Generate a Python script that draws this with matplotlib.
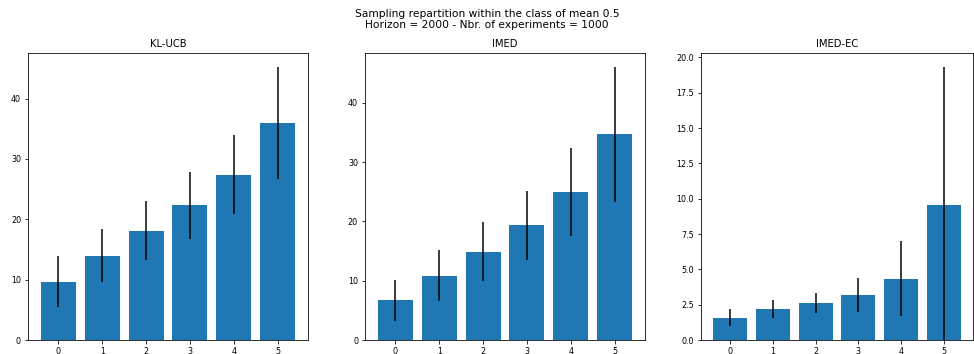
import numpy as np
import matplotlib
matplotlib.use("Agg")
import matplotlib.pyplot as plt

arms = [0, 1, 2, 3, 4, 5]

klucb_mean = [9.66, 13.96, 18.1, 22.3, 27.4, 36.0]
klucb_err = [4.2, 4.4, 4.9, 5.6, 6.6, 9.3]

imed_mean = [6.68, 10.83, 14.87, 19.3, 24.9, 34.67]
imed_err = [3.5, 4.3, 5.0, 5.8, 7.4, 11.4]

imedec_mean = [1.58, 2.19, 2.61, 3.18, 4.35, 9.58]
imedec_err = [0.59, 0.62, 0.7, 1.18, 2.66, 9.76]

titles = ["KL-UCB", "IMED", "IMED-EC"]
means = [klucb_mean, imed_mean, imedec_mean]
errs = [klucb_err, imed_err, imedec_err]

W, H = 974, 354
fig = plt.figure(figsize=(W / 72, H / 72), dpi=72)

# axes boxes in pixels: left, right, top, bottom
boxes = [(28, 308, 53, 340), (365, 645, 53, 340), (701, 973, 53, 340)]

for i in range(3):
    l, r, t, b = boxes[i]
    ax = fig.add_axes([l / W, (H - b) / H, (r - l) / W, (b - t) / H])
    ax.bar(arms, means[i], yerr=errs[i], color="#1f77b4", ecolor="black",
           error_kw=dict(elinewidth=1.5))
    ax.set_title(titles[i], fontsize=10)
    ax.set_xticks(arms)
    ax.tick_params(labelsize=8)
    if i == 2:
        ax.set_ylim(bottom=0)

fig.suptitle("Sampling repartition within the class of mean 0.5\n"
             "Horizon = 2000 - Nbr. of experiments = 1000",
             fontsize=10.6, y=0.975)

fig.savefig("out.png", dpi=72)
